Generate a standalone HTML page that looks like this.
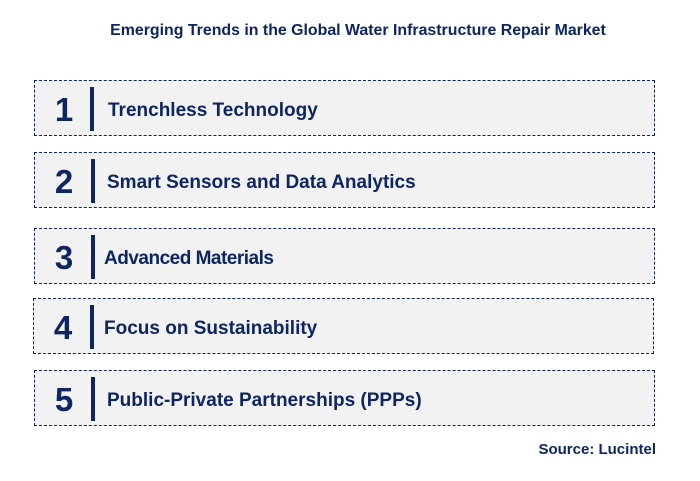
<!DOCTYPE html>
<html><head><meta charset="utf-8"><style>
body{margin:0;width:700px;height:481px;background:#fff;font-family:"Liberation Sans",sans-serif;position:relative;overflow:hidden;color:#0d2561}
.t{position:absolute;left:0;width:716px;text-align:center;top:22px;font-size:15.9px;font-weight:bold;color:#0d2561}
.box{position:absolute;left:34px;width:621px;height:56px;background:#f2f2f2;border:1px dashed #0d2561;box-sizing:border-box}
.n{position:absolute;left:13px;width:32px;text-align:center;top:10px;font-size:33px;font-weight:bold}
.bar{position:absolute;top:6px;width:4px;height:44px;background:#0d2561}
.lbl{position:absolute;top:19px;font-size:19px;font-weight:bold;white-space:nowrap}
.src{position:absolute;right:44px;top:441px;font-size:15px;font-weight:bold}
</style></head><body>
<div class="t">Emerging Trends in the Global Water Infrastructure Repair Market</div>
<div class="box" style="top:80px"><div class="n">1</div><div class="bar" style="left:55px"></div><div class="lbl" style="left:73px">Trenchless Technology</div></div>
<div class="box" style="top:152px"><div class="n">2</div><div class="bar" style="left:56px"></div><div class="lbl" style="left:72px">Smart Sensors and Data Analytics</div></div>
<div class="box" style="top:228px"><div class="n">3</div><div class="bar" style="left:56px"></div><div class="lbl" style="left:69px;letter-spacing:-0.5px">Advanced Materials</div></div>
<div class="box" style="top:298px;left:33px"><div class="n">4</div><div class="bar" style="left:56px"></div><div class="lbl" style="left:70px">Focus on Sustainability</div></div>
<div class="box" style="top:370px"><div class="n">5</div><div class="bar" style="left:56px"></div><div class="lbl" style="left:72px">Public-Private Partnerships (PPPs)</div></div>
<div class="src">Source: Lucintel</div>
</body></html>
